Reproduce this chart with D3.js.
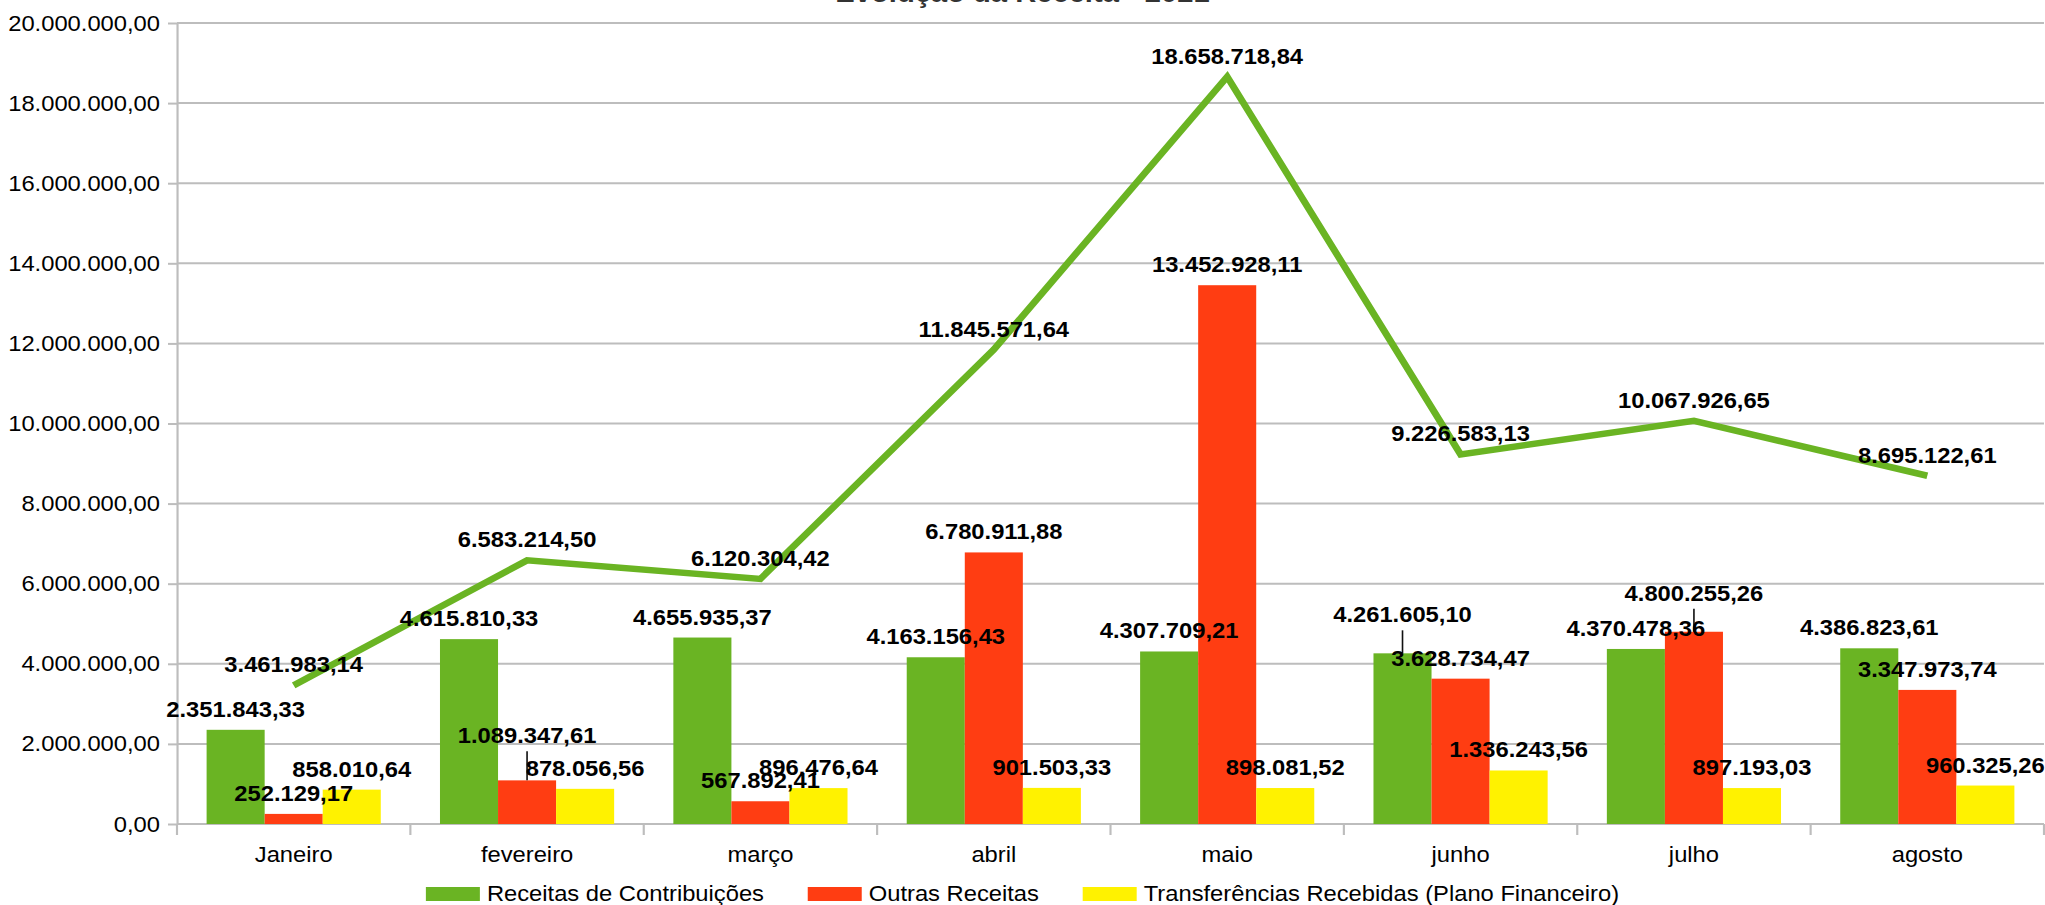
<!DOCTYPE html>
<html>
<head>
<meta charset="utf-8">
<script src="https://cdn.jsdelivr.net/npm/d3@7"></script>
<style>
  html, body { margin: 0; padding: 0; background: #fff; }
  svg { display: block; }
  text { font-family: "Liberation Sans", Arial, sans-serif; }
</style>
</head>
<body>
<svg id="chart"></svg>
<script>
// values
const meses = ["Janeiro", "fevereiro", "março", "abril", "maio", "junho", "julho", "agosto"];
const seriesNames = ["Receitas de Contribuições", "Outras Receitas", "Transferências Recebidas (Plano Financeiro)"];
const contribuicoes = [2351843.33, 4615810.33, 4655935.37, 4163156.43, 4307709.21, 4261605.10, 4370478.36, 4386823.61];
const outrasReceitas = [252129.17, 1089347.61, 567892.41, 6780911.88, 13452928.11, 3628734.47, 4800255.26, 3347973.74];
const transferencias = [858010.64, 878056.56, 896476.64, 901503.33, 898081.52, 1336243.56, 897193.03, 960325.26];
const totais = [3461983.14, 6583214.50, 6120304.42, 11845571.64, 18658718.84, 9226583.13, 10067926.65, 8695122.61];
const yTicks = [0, 2e6, 4e6, 6e6, 8e6, 10e6, 12e6, 14e6, 16e6, 18e6, 20e6];
const cores = ["#6ab423", "#ff3d12", "#fff200"];

// labels that the chart pushed upward with a leader line: [serie, mes, shift]
const labelShift = [[1, 1, -24], [0, 5, -18], [1, 6, -18]];

const W = 2045, H = 905;
const sx = 1.08; // the picture is a bit stretched sideways, text included
const VW = W / sx;

const svg = d3.select("#chart")
    .attr("width", W)
    .attr("height", H)
    .attr("viewBox", `0 0 ${VW} ${H}`)
    .attr("preserveAspectRatio", "none");

const plotL = 177 / sx, plotR = 2044 / sx, plotT = 23, plotB = 824;
const ptBR = d3.formatLocale({decimal: ",", thousands: ".", grouping: [3], currency: ["R$ ", ""]});
const fmt = ptBR.format(",.2f");

const valores = [contribuicoes, outrasReceitas, transferencias];

const x0 = d3.scaleBand().domain(meses).range([plotL, plotR]);
const x1 = d3.scaleBand().domain(d3.range(seriesNames.length)).range([0, x0.bandwidth()]).paddingOuter(0.51);
const y = d3.scaleLinear().domain([0, 20e6]).range([plotB, plotT]);

// title (mostly outside the picture at the top)
svg.append("text")
    .attr("x", VW / 2)
    .attr("y", 2)
    .attr("text-anchor", "middle")
    .attr("font-size", 27)
    .attr("font-weight", "bold")
    .attr("fill", "#333")
    .text("Evolução da Receita - 2021");

// grid
svg.append("g")
    .selectAll("line")
    .data(yTicks)
    .join("line")
    .attr("x1", plotL)
    .attr("x2", plotR)
    .attr("y1", d => y(d))
    .attr("y2", d => y(d))
    .attr("stroke", "#bdbdbd")
    .attr("stroke-width", 2);

// y axis
const yAxis = svg.append("g")
    .attr("transform", `translate(${plotL},0)`)
    .call(d3.axisLeft(y).tickValues(yTicks).tickFormat(fmt).tickSize(9 / sx).tickSizeOuter(0).tickPadding(7.4));
yAxis.select(".domain").attr("stroke", "#bdbdbd").attr("stroke-width", 2);
yAxis.selectAll(".tick line").attr("stroke", "#bdbdbd").attr("stroke-width", 2);
yAxis.selectAll("text")
    .attr("font-family", "Liberation Sans, Arial, sans-serif")
    .attr("font-size", 22)
    .attr("fill", "#000");

// x axis: ticks between categories, labels in the middle
const bordas = meses.map(d => x0(d)).concat([plotR]);
svg.append("g")
    .selectAll("line")
    .data(bordas)
    .join("line")
    .attr("x1", d => d)
    .attr("x2", d => d)
    .attr("y1", plotB)
    .attr("y2", plotB + 11)
    .attr("stroke", "#bdbdbd")
    .attr("stroke-width", 2);

const xAxis = svg.append("g")
    .attr("transform", `translate(0,${plotB})`)
    .call(d3.axisBottom(x0).tickSize(0).tickPadding(22));
xAxis.select(".domain").remove();
xAxis.selectAll("text")
    .attr("font-family", "Liberation Sans, Arial, sans-serif")
    .attr("font-size", 22)
    .attr("fill", "#000");

// bars
const grupos = svg.append("g")
    .selectAll("g")
    .data(meses)
    .join("g")
    .attr("transform", d => `translate(${x0(d)},0)`);

grupos.selectAll("rect")
    .data((d, i) => valores.map((v, s) => ({s, v: v[i]})))
    .join("rect")
    .attr("x", d => x1(d.s))
    .attr("width", x1.bandwidth())
    .attr("y", d => y(d.v))
    .attr("height", d => y(0) - y(d.v))
    .attr("fill", d => cores[d.s]);

// total line
const cx = m => x0(m) + x0.bandwidth() / 2;
svg.append("path")
    .datum(totais)
    .attr("fill", "none")
    .attr("stroke", cores[0])
    .attr("stroke-width", 6.5)
    .attr("stroke-linejoin", "miter")
    .attr("d", d3.line().x((d, i) => cx(meses[i])).y(d => y(d)));

// data labels
const rotulos = [];
valores.forEach((serie, s) => serie.forEach((v, i) => {
    const shift = labelShift.find(l => l[0] === s && l[1] === i);
    rotulos.push({
        x: x0(meses[i]) + x1(s) + x1.bandwidth() / 2,
        topo: y(v),
        dy: shift ? shift[2] : 0,
        text: fmt(v)
    });
}));
totais.forEach((v, i) => rotulos.push({x: cx(meses[i]), topo: y(v), dy: 0, text: fmt(v)}));

svg.append("g")
    .selectAll("line")
    .data(rotulos.filter(d => d.dy !== 0))
    .join("line")
    .attr("x1", d => d.x)
    .attr("x2", d => d.x)
    .attr("y1", d => d.topo - 13 + d.dy + 8)
    .attr("y2", d => d.topo)
    .attr("stroke", "#111")
    .attr("stroke-width", 1.5);

svg.append("g")
    .selectAll("text")
    .data(rotulos)
    .join("text")
    .attr("x", d => d.x)
    .attr("y", d => d.topo - 13 + d.dy)
    .attr("text-anchor", "middle")
    .attr("font-size", 22)
    .attr("font-weight", "bold")
    .attr("fill", "#000")
    .text(d => d.text);

// legend, centred under the plot
const legenda = svg.append("g");
let lx = 0;
seriesNames.forEach((nome, s) => {
    legenda.append("rect")
        .attr("x", lx)
        .attr("y", 887)
        .attr("width", 50)
        .attr("height", 14)
        .attr("fill", cores[s]);
    const t = legenda.append("text")
        .attr("x", lx + 56.5)
        .attr("y", 901)
        .attr("font-size", 22)
        .attr("fill", "#000")
        .text(nome);
    lx += 56.5 + t.node().getComputedTextLength() + 40.5;
});
const larg = lx - 40.5;
legenda.attr("transform", `translate(${VW / 2 - larg / 2},0)`);
</script>
</body>
</html>
